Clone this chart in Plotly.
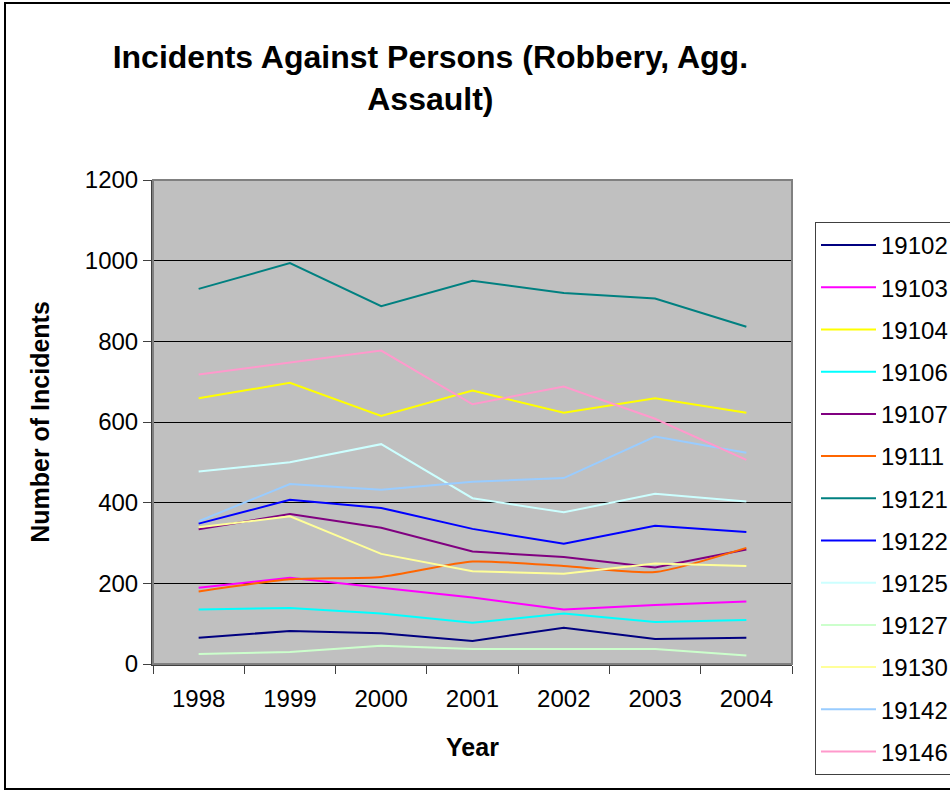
import plotly.graph_objects as go

# Years on the category axis
years = ["1998", "1999", "2000", "2001", "2002", "2003", "2004"]

# Incidents per ZIP code, 1998-2004
zip_19102 = [65, 82, 76, 57, 90, 62, 65]
zip_19103 = [189, 214, 189, 165, 135, 146, 155]
zip_19104 = [659, 697, 615, 678, 623, 659, 623]
zip_19106 = [135, 139, 125, 102, 125, 104, 109]
zip_19107 = [334, 372, 338, 279, 265, 239, 284]
zip_19111 = [180, 210, 216, 254, 243, 228, 288]
zip_19121 = [930, 994, 887, 950, 920, 906, 836]
zip_19122 = [348, 407, 387, 335, 298, 343, 327]
zip_19125 = [477, 500, 545, 411, 376, 422, 403]
zip_19127 = [25, 30, 45, 37, 37, 37, 21]
zip_19130 = [339, 366, 273, 230, 224, 249, 243]
zip_19142 = [354, 446, 432, 452, 461, 564, 524]
zip_19146 = [718, 747, 777, 644, 688, 608, 506]

series = [
    ("19102", zip_19102, "#000080"),
    ("19103", zip_19103, "#FF00FF"),
    ("19104", zip_19104, "#FFFF00"),
    ("19106", zip_19106, "#00FFFF"),
    ("19107", zip_19107, "#800080"),
    ("19111", zip_19111, "#FF6600"),
    ("19121", zip_19121, "#008080"),
    ("19122", zip_19122, "#0000FF"),
    ("19125", zip_19125, "#CCFFFF"),
    ("19127", zip_19127, "#CCFFCC"),
    ("19130", zip_19130, "#FFFF99"),
    ("19142", zip_19142, "#99CCFF"),
    ("19146", zip_19146, "#FF99CC"),
]

W, H = 950, 791
ML, MR, MT, MB = 153, 158, 180, 127
PW, PH = W - ML - MR, H - MT - MB

def px_x(px):
    return (px - ML) / PW

def px_y(py):
    return (H - MB - py) / PH

FONT = "Liberation Sans, Arial, Helvetica, sans-serif"

fig = go.Figure()
for name, vals, color in series:
    fig.add_trace(go.Scatter(
        x=years, y=vals, name=name, mode="lines",
        legendgroup=name,
        line=dict(color=color, width=2,
                  shape="spline" if name == "19111" else "linear",
                  smoothing=0.6),
    ))

fig.update_layout(
    width=W, height=H,
    margin=dict(l=ML, r=MR, t=MT, b=MB, autoexpand=False),
    paper_bgcolor="white",
    plot_bgcolor="#C0C0C0",
    font=dict(family=FONT, color="black", size=24),
    title=dict(
        text="<b>Incidents Against Persons (Robbery, Agg.<br>Assault)</b>",
        x=0.453, xanchor="center", y=0.914, yanchor="top",
        xref="container", yref="container",
        font=dict(size=32, family=FONT, color="black"),
    ),
    showlegend=True,
    legend=dict(
        x=px_x(815), y=px_y(222), xanchor="left", yanchor="top",
        bgcolor="white", bordercolor="#404040", borderwidth=1,
        font=dict(size=24, family=FONT, color="black"),
        tracegroupgap=8,
        itemwidth=55,
        maxheight=700,
    ),
    xaxis=dict(
        type="category", range=[-0.5, 6.5],
        showgrid=False, showline=True, linecolor="#404040", linewidth=2,
        ticks="outside", tickson="boundaries", ticklen=8, tickcolor="#404040",
        tickfont=dict(size=24), ticklabelstandoff=12,
        title=dict(text="<b>Year</b>", font=dict(size=25), standoff=28),
    ),
    yaxis=dict(
        range=[0, 1200], dtick=200,
        showgrid=True, gridcolor="black", gridwidth=1,
        zeroline=False,
        showline=True, linecolor="#404040", linewidth=2,
        ticks="outside", ticklen=8, tickcolor="#404040",
        tickfont=dict(size=24),
        title=dict(text="<b>Number of Incidents</b>", font=dict(size=25), standoff=28),
    ),
    shapes=[
        # plot-area frame on top/right
        dict(type="rect", xref="paper", yref="paper", x0=0, y0=0, x1=1, y1=1,
             line=dict(color="#808080", width=2), layer="above"),
        # outer chart border
        dict(type="rect", xref="paper", yref="paper",
             x0=px_x(5), y0=px_y(789), x1=px_x(951), y1=px_y(3),
             line=dict(color="black", width=2)),
    ],
)

fig.write_html("out.html")
